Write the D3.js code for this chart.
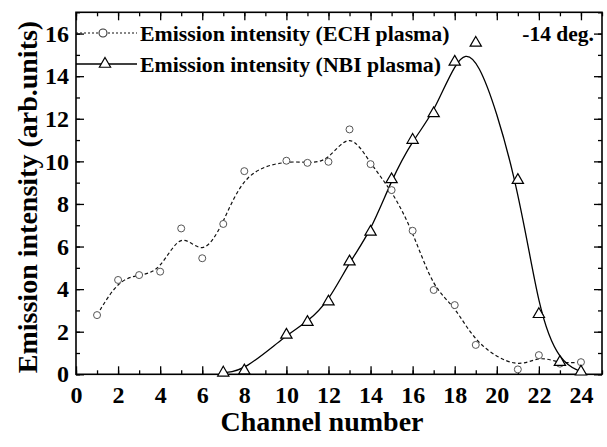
<!DOCTYPE html>
<html>
<head>
<meta charset="utf-8">
<script src="https://cdn.jsdelivr.net/npm/d3@7"></script>
<style>
  body { margin: 0; background: #fff; }
  text { font-family: "Liberation Serif", "Times New Roman", serif; font-weight: bold; fill: #000; }
</style>
</head>
<body>
<svg id="chart" width="607" height="447"></svg>
<script>
// Emission intensity per channel, ECH plasma (circles)
const echChannels = [1, 2, 3, 4, 5, 6, 7, 8, 10, 11, 12, 13, 14, 15, 16, 17, 18, 19, 21, 22, 23, 24];
const echValues   = [2.78, 4.43, 4.66, 4.82, 6.85, 5.45, 7.06, 9.54, 10.03, 9.93, 9.98, 11.5, 9.87, 8.65, 6.74, 3.96, 3.25, 1.38, 0.23, 0.9, 0.5, 0.57];

// Emission intensity per channel, NBI plasma (triangles)
const nbiChannels = [7, 8, 10, 11, 12, 13, 14, 15, 16, 17, 18, 19, 21, 22, 23, 24];
const nbiValues   = [0.07, 0.17, 1.85, 2.45, 3.41, 5.29, 6.69, 9.15, 11.0, 12.25, 14.67, 15.56, 9.12, 2.82, 0.57, 0.12];

const xTickLabels = [0, 2, 4, 6, 8, 10, 12, 14, 16, 18, 20, 22, 24];
const yTickLabels = [0, 2, 4, 6, 8, 10, 12, 14, 16];
const seriesNames = ["Emission intensity (ECH plasma)", "Emission intensity (NBI plasma)"];
const angleNote = "-14 deg.";
const xTitle = "Channel number";
const yTitle = "Emission intensity (arb.units)";

const svg = d3.select("#chart");
const plotLeft = 76, plotRight = 602, plotTop = 12.3, plotBottom = 374.3;

const x = d3.scaleLinear().domain([0, 25]).range([plotLeft, plotRight]);
const y = d3.scaleLinear().domain([0, 17]).range([plotBottom, plotTop]);

const minorX = d3.range(0, 26, 1);
const minorY = d3.range(0, 18, 1);

function styleAxis(g) {
  g.select(".domain").remove();
  g.selectAll(".tick line").attr("stroke", "#000").attr("stroke-width", 1.3);
}
function styleLabels(g) {
  g.attr("font-family", null).attr("font-size", null);
  g.selectAll("text").style("font-size", "24px");
}

// bottom axis: labelled major ticks and short minor ticks, pointing inward
svg.append("g").attr("transform", `translate(0,${plotBottom})`)
  .call(d3.axisBottom(x).tickValues(minorX).tickSize(-4).tickFormat(""))
  .call(styleAxis);
svg.append("g").attr("transform", `translate(0,${plotBottom})`)
  .call(d3.axisBottom(x).tickValues(xTickLabels).tickSize(-8).tickPadding(12).tickFormat(d3.format("d")))
  .call(styleAxis)
  .call(styleLabels);

// top axis mirrors the bottom ticks
svg.append("g").attr("transform", `translate(0,${plotTop})`)
  .call(d3.axisTop(x).tickValues(minorX).tickSize(-4).tickFormat(""))
  .call(styleAxis);
svg.append("g").attr("transform", `translate(0,${plotTop})`)
  .call(d3.axisTop(x).tickValues(xTickLabels).tickSize(-8).tickFormat(""))
  .call(styleAxis);

// left axis
svg.append("g").attr("transform", `translate(${plotLeft},0)`)
  .call(d3.axisLeft(y).tickValues(minorY).tickSize(-4).tickFormat(""))
  .call(styleAxis);
svg.append("g").attr("transform", `translate(${plotLeft},0)`)
  .call(d3.axisLeft(y).tickValues(yTickLabels).tickSize(-8).tickPadding(7).tickFormat(d3.format("d")))
  .call(styleAxis)
  .call(styleLabels);

// right axis
svg.append("g").attr("transform", `translate(${plotRight},0)`)
  .call(d3.axisRight(y).tickValues(minorY).tickSize(-4).tickFormat(""))
  .call(styleAxis);
svg.append("g").attr("transform", `translate(${plotRight},0)`)
  .call(d3.axisRight(y).tickValues(yTickLabels).tickSize(-8).tickFormat(""))
  .call(styleAxis);

// frame
svg.append("rect")
  .attr("x", plotLeft).attr("y", plotTop)
  .attr("width", plotRight - plotLeft).attr("height", plotBottom - plotTop)
  .attr("fill", "none").attr("stroke", "#000").attr("stroke-width", 1.6);

// smoothed B-spline curves through the measured channels
const line = d3.line().curve(d3.curveBasis).x(d => x(d[0])).y(d => y(d[1]));
const ech = echChannels.map((c, i) => [c, echValues[i]]);
const nbi = nbiChannels.map((c, i) => [c, nbiValues[i]]);

svg.append("path").datum(ech).attr("d", line)
  .attr("fill", "none").attr("stroke", "#111").attr("stroke-width", 1.2)
  .attr("stroke-dasharray", "3.5,2.5");
svg.append("path").datum(nbi).attr("d", line)
  .attr("fill", "none").attr("stroke", "#000").attr("stroke-width", 1.3);

const tri = d3.symbol().type(d3.symbolTriangle).size(55);

svg.append("g").selectAll("circle").data(ech).join("circle")
  .attr("cx", d => x(d[0])).attr("cy", d => y(d[1])).attr("r", 3.5)
  .attr("fill", "#fff").attr("stroke", "#555").attr("stroke-width", 1);

svg.append("g").selectAll("path").data(nbi).join("path")
  .attr("d", tri)
  .attr("transform", d => `translate(${x(d[0])},${y(d[1])})`)
  .attr("fill", "#fff").attr("stroke", "#000").attr("stroke-width", 1.2);

// legend
const legY = [33, 64];
svg.append("line").attr("x1", plotLeft).attr("x2", 137).attr("y1", legY[0]).attr("y2", legY[0])
  .attr("stroke", "#111").attr("stroke-width", 1.1).attr("stroke-dasharray", "2,2");
svg.append("circle").attr("cx", 103).attr("cy", legY[0]).attr("r", 4)
  .attr("fill", "#fff").attr("stroke", "#333").attr("stroke-width", 1.1);
svg.append("line").attr("x1", plotLeft).attr("x2", 137).attr("y1", legY[1]).attr("y2", legY[1])
  .attr("stroke", "#000").attr("stroke-width", 1.3);
svg.append("path").attr("d", tri).attr("transform", `translate(105,${legY[1]})`)
  .attr("fill", "#fff").attr("stroke", "#000").attr("stroke-width", 1.2);

seriesNames.forEach((name, i) => {
  svg.append("text").attr("x", 140).attr("y", legY[i]).attr("dy", "0.35em")
    .style("font-size", "21.8px").text(name);
});

svg.append("text").attr("x", 594).attr("y", 33).attr("dy", "0.35em")
  .attr("text-anchor", "end").style("font-size", "21.5px").text(angleNote);

// axis titles
svg.append("text").attr("x", 322).attr("y", 431)
  .attr("text-anchor", "middle").style("font-size", "28px").text(xTitle);
svg.append("text")
  .attr("transform", "translate(37,197) rotate(-90)")
  .attr("text-anchor", "middle").style("font-size", "28px").text(yTitle);
</script>
</body>
</html>
